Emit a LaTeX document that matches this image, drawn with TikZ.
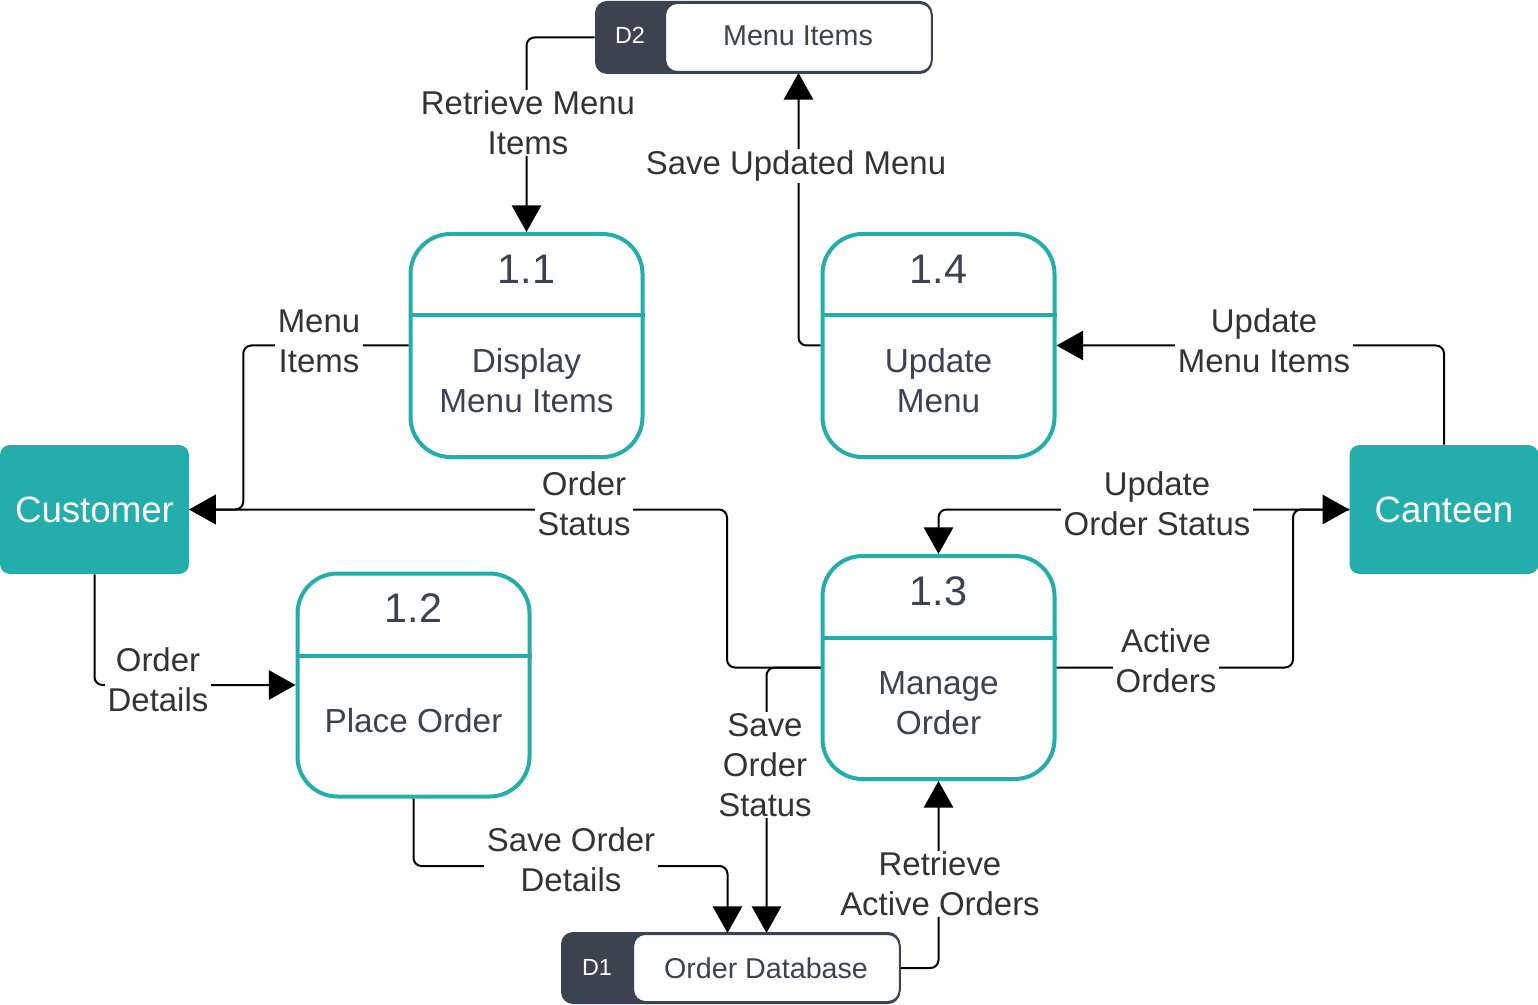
\documentclass[tikz,border=0pt]{standalone}
\usepackage{fontspec}
\setmainfont{Liberation Sans}
\usetikzlibrary{arrows.meta,calc}
\definecolor{tealc}{HTML}{24AEAB}
\definecolor{darkst}{HTML}{3C4350}
\definecolor{txtc}{HTML}{3B4250}
\definecolor{lblc}{HTML}{333333}
\tikzset{
  proc/.style={draw=tealc,line width=3pt,rounded corners=30pt,fill=white,minimum width=174pt,minimum height=167.25pt,inner sep=0pt},
  procline/.style={draw=tealc,line width=3pt},
  pnum/.style={text=txtc,font=\fontsize{31}{36}\selectfont,inner sep=0pt},
  pname/.style={text=txtc,font=\fontsize{25}{30}\selectfont,align=center,inner sep=0pt},
  ent/.style={fill=tealc,rounded corners=7.5pt,minimum width=141.75pt,minimum height=96.75pt,text=white,font=\fontsize{27.5}{32}\selectfont,inner sep=0pt},
  stdark/.style={fill=darkst,rounded corners=9pt,inner sep=0pt},
  stwhite/.style={fill=white,draw=darkst,line width=1.5pt,rounded corners=9pt,inner sep=0pt,minimum width=200pt},
  stid/.style={text=white,font=\fontsize{17.5}{20}\selectfont,inner sep=0pt},
  sttxt/.style={text=txtc,font=\fontsize{21.5}{26}\selectfont,inner sep=0pt},
  flow/.style={draw=black,line width=1.5pt,rounded corners=6pt,-{Triangle[length=20pt,width=22pt]}},
  lbl/.style={fill=white,text=lblc,font=\fontsize{24.7}{30}\selectfont,align=center,inner xsep=2pt,inner ysep=1pt}
}
\begin{document}
\begin{tikzpicture}[x=0.75pt,y=-0.75pt]
\useasboundingbox (0,0) rectangle (1538,1005);

% Entities
\node[ent] (cust) at (94.5,509.5) {Customer};
\node[ent] (cant) at (1444,509.5) {Canteen};

% Data stores
\node[stdark,minimum width=252.75pt,minimum height=54.75pt] (d2) at (763.5,37.5) {};
\node[stwhite,minimum height=51.75pt] (d2w) at (798.5,37.5) {};
\node[stid] (d2id) at (630,35) {D2};
\node[sttxt] (d2t) at (798,36) {Menu Items};

\node[stdark,minimum width=254.25pt,minimum height=54pt] (d1) at (730.5,968) {};
\node[stwhite,minimum height=51pt] (d1w) at (766.5,968) {};
\node[stid] (d1id) at (597,967) {D1};
\node[sttxt] (d1t) at (766,968) {Order Database};

% Processes
\node[proc] (p11) at (526.5,345.5) {};
\node[proc] (p14) at (938.5,345.5) {};
\node[proc] (p12) at (413.5,685) {};
\node[proc] (p13) at (938.5,667.5) {};

\foreach \p/\d in {p11/83,p14/83,p12/84,p13/84}{
  \draw[procline] ($(\p.north west)+(0,\d)$) -- ($(\p.north east)+(0,\d)$);
}
\node[pnum] (n11) at ($(p11.north)+(0,37)$) {1.1};
\node[pnum] (n14) at ($(p14.north)+(0,37)$) {1.4};
\node[pnum] (n12) at ($(p12.north)+(0,37)$) {1.2};
\node[pnum] (n13) at ($(p13.north)+(0,37)$) {1.3};
\node[pname] (t11) at ($(p11.north)+(0,149)$) {Display\\Menu Items};
\node[pname] (t14) at ($(p14.north)+(0,149)$) {Update\\Menu};
\node[pname] (t12) at ($(p12.north)+(0,149)$) {Place Order};
\node[pname] (t13) at ($(p13.north)+(0,149)$) {Manage\\Order};

% Connectors
\coordinate (d1a) at ($(d1w.north)+(-39,0)$);
\draw[flow] (d2.west) -| (p11.north);
\draw[flow] (p14.west) -| (d2w.south);
\draw[flow] (cant.north) |- (p14.east);
\draw[flow] (p11.west) -| ($(cust.east)+(54,0)$) -- (cust.east);
\draw[flow] (p13.west) -| (727,509.5) -- (cust.east);
\draw[flow] (cust.south) |- (p12.west);
\draw[flow] (p12.south) |- ($(d1a)+(0,-67)$) -- (d1a);
\draw[flow] (p13.west) -| (d1w.north);
\draw[flow] (d1w.east) -| (p13.south);
\draw[flow] (cant.west) -| (p13.north);
\draw[flow] (p13.east) -| (1293,509.5) -- (cant.west);

% Labels
\node[lbl] (l1) at (528,123) {Retrieve Menu\\Items};
\node[lbl] (l2) at (796,166) {Save Updated Menu};
\node[lbl] (l3) at (1264,341) {Update\\Menu Items};
\node[lbl] (l4) at (319,341) {Menu\\Items};
\node[lbl] (l5) at (584,504) {Order\\Status};
\node[lbl] (l6) at (158,680) {Order\\Details};
\node[lbl] (l7) at (571,860) {Save Order\\Details};
\node[lbl] (l8) at (765,765) {Save\\Order\\Status};
\node[lbl] (l9) at (940,884) {Retrieve\\Active Orders};
\node[lbl] (l10) at (1157,504) {Update\\Order Status};
\node[lbl] (l11) at (1166,661) {Active\\Orders};
\end{tikzpicture}
\end{document}
